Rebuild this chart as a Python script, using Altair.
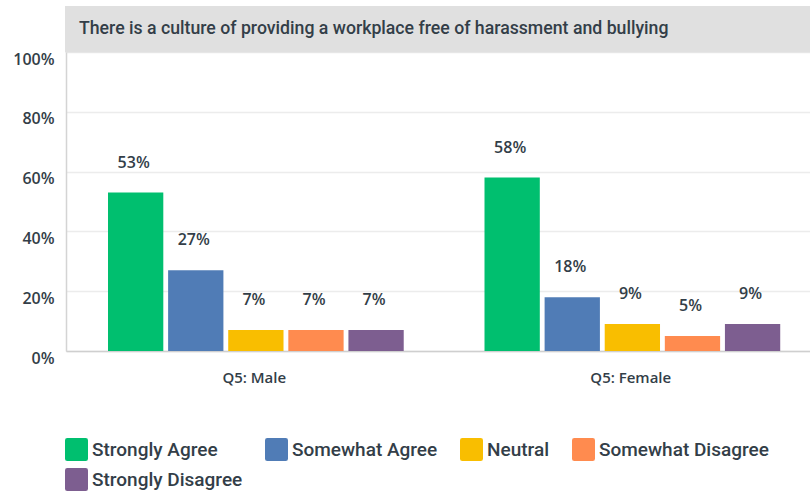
import altair as alt
import pandas as pd

# Survey question and response breakdown
question = "There is a culture of providing a workplace free of harassment and bullying"
groups = ["Q5: Male", "Q5: Female"]
responses = ["Strongly Agree", "Somewhat Agree", "Neutral", "Somewhat Disagree", "Strongly Disagree"]
male_pct = [53, 27, 7, 7, 7]
female_pct = [58, 18, 9, 5, 9]
palette = ["#00bf6f", "#507cb6", "#f9be00", "#ff8b4f", "#7d5e90"]

TEXT = "#333e48"

rows = []
for g, vals in zip(groups, [male_pct, female_pct]):
    for r, v in zip(responses, vals):
        rows.append({"group": g, "response": r, "pct": v, "label": f"{v}%"})
df = pd.DataFrame(rows)

W, H = 744, 299

x_enc = alt.X("group:N", sort=groups, title=None,
              scale=alt.Scale(range=[0, 753], paddingInner=0, paddingOuter=0),
              axis=alt.Axis(labelFont="Open Sans", labelFontWeight=600, labelFontSize=15,
                            labelColor=TEXT, labelAngle=0, ticks=False, labelPadding=19,
                            domainColor="#cfcfcf", domainWidth=1.5, grid=False))
xoff_enc = alt.XOffset("response:N", sort=responses,
                       scale=alt.Scale(paddingInner=0.08, paddingOuter=0.672, align=0.52))
y_enc = alt.Y("pct:Q", title=None,
              scale=alt.Scale(domain=[0, 100], nice=False),
              axis=alt.Axis(values=list(range(0, 101, 10)),
                            labelExpr="datum.value % 20 == 0 ? datum.value + '%' : ''",
                            labelFont="Open Sans", labelFontWeight=600, labelFontSize=16,
                            labelColor=TEXT, ticks=False, labelPadding=12,
                            labelBaseline="top", labelOffset=-1,
                            domainColor="#d4d4d4", domainWidth=1.5,
                            gridColor="#ececec", gridWidth=1.5))

# rounded square legend swatch, in Vega's [-1, 1] symbol units
rounded_square = ("M -0.8,-1 L 0.8,-1 Q 1,-1 1,-0.8 L 1,0.8 Q 1,1 0.8,1 "
                  "L -0.8,1 Q -1,1 -1,0.8 L -1,-0.8 Q -1,-1 -0.8,-1 Z")

bars = alt.Chart(df).mark_bar().encode(
    x=x_enc,
    xOffset=xoff_enc,
    y=y_enc,
    color=alt.Color("response:N", sort=responses,
                    scale=alt.Scale(domain=responses, range=palette),
                    legend=alt.Legend(title=None, orient="none", legendX=-1, legendY=386,
                                      direction="horizontal", columns=4, gridAlign="none",
                                      columnPadding=22, rowPadding=7,
                                      symbolType=rounded_square, symbolSize=529,
                                      symbolOpacity=1, symbolStrokeWidth=0,
                                      labelFont="Roboto", labelFontSize=19, labelFontWeight=500,
                                      labelColor=TEXT, labelOffset=4, labelLimit=300)),
)

labels = alt.Chart(df).mark_text(
    font="Open Sans", fontWeight=600, fontSize=16, color=TEXT,
    baseline="alphabetic", dy=-25, dx=-2
).encode(
    x=alt.X("group:N", sort=groups),
    xOffset=alt.XOffset("response:N", sort=responses),
    y="pct:Q",
    text="label:N",
)

header_df = pd.DataFrame({"title": [question]})
band = alt.Chart(header_df).mark_rect(color="#e0e0e0", clip=False).encode(
    x=alt.value(-1), x2=alt.value(W), y=alt.value(-46), y2=alt.value(0.5)
)
header_text = alt.Chart(header_df).mark_text(
    font="Roboto", fontSize=17.7, fontWeight=500, color=TEXT, align="left", baseline="middle"
).encode(x=alt.value(13), y=alt.value(-23), text="title:N")

chart = alt.layer(bars, labels, band, header_text).properties(
    width=W, height=H,
    autosize=alt.AutoSizeParams(type="none"),
    padding={"left": 66, "top": 52, "right": 0, "bottom": 140},
).configure_view(stroke=None).configure(background="white")

chart.save("out.html", embed_options={"renderer": "svg", "actions": False})
